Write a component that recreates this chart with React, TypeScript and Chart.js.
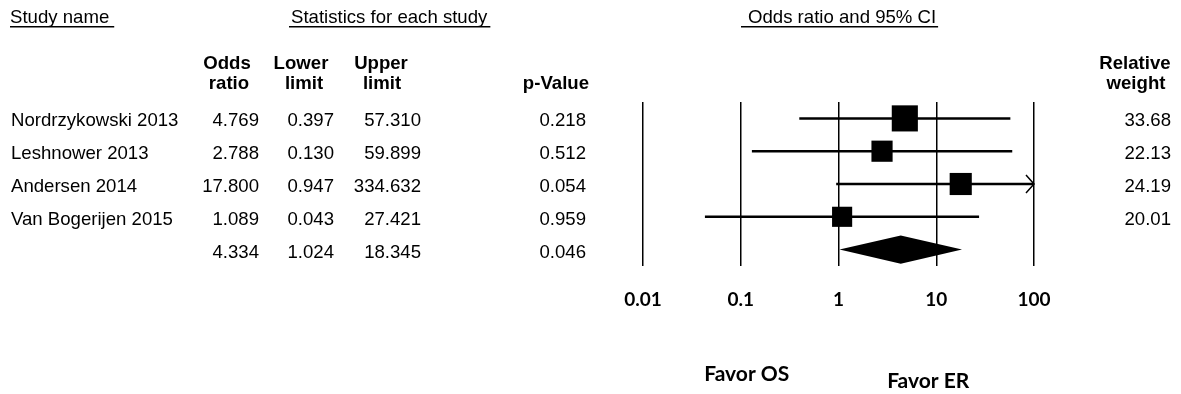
import { useEffect, useRef } from "react";
import { Chart, registerables } from "chart.js";

Chart.register(...registerables);

// ---------- data ----------
const studyNames = ["Nordrzykowski 2013", "Leshnower 2013", "Andersen 2014", "Van Bogerijen 2015"];
const oddsRatios = [4.769, 2.788, 17.8, 1.089];
const lowerLimits = [0.397, 0.13, 0.947, 0.043];
const upperLimits = [57.31, 59.899, 334.632, 27.421];
const pValues = [0.218, 0.512, 0.054, 0.959];
const relativeWeights = [33.68, 22.13, 24.19, 20.01];
const summaryOR = 4.334;
const summaryLower = 1.024;
const summaryUpper = 18.345;
const summaryP = 0.046;
const xTickValues = [0.01, 0.1, 1, 10, 100];
const xTickLabels = ["0.01", "0.1", "1", "10", "100"];
const favorLabels = ["Favor OS", "Favor ER"];

const W = 1181;
const H = 394;
const SANS = "'Liberation Sans', Arial, sans-serif";
const CAL = "Lato, 'Open Sans', sans-serif";
const FS = 18.6;

const summaryRow = studyNames.length;

const forestPlugin = {
  id: "forestExtras",
  afterDraw(chart: any) {
    const ctx: CanvasRenderingContext2D = chart.ctx;
    const xs = chart.scales.x;
    const ys = chart.scales.y;
    ctx.save();
    ctx.fillStyle = "#000";
    ctx.strokeStyle = "#000";

    // summary diamond
    const yc = ys.getPixelForValue(summaryRow);
    const hh = Math.abs(ys.getPixelForValue(summaryRow + 0.43) - yc);
    const xl = xs.getPixelForValue(summaryLower);
    const xm = xs.getPixelForValue(summaryOR);
    const xr = xs.getPixelForValue(summaryUpper);
    ctx.beginPath();
    ctx.moveTo(xl, yc);
    ctx.lineTo(xm, yc - hh);
    ctx.lineTo(xr, yc);
    ctx.lineTo(xm, yc + hh);
    ctx.closePath();
    ctx.fill();

    // arrows for limits beyond the axis
    const xmax = xs.max;
    upperLimits.forEach((u, i) => {
      if (u > xmax) {
        const tip = xs.getPixelForValue(xmax);
        const y = ys.getPixelForValue(i);
        ctx.beginPath();
        ctx.lineWidth = 1.5;
        ctx.moveTo(tip - 8, y - 9);
        ctx.lineTo(tip, y);
        ctx.lineTo(tip - 8, y + 9);
        ctx.stroke();
      }
    });

    // headers
    const underlineText = (t: string, x: number, y: number, padL: number, padR: number) => {
      ctx.textAlign = "left";
      ctx.fillText(t, x, y);
      const w = ctx.measureText(t).width;
      ctx.fillRect(x - padL, y + 3, w + padL + padR, 1.5);
    };
    ctx.textBaseline = "alphabetic";
    ctx.font = `${FS}px ${SANS}`;
    underlineText("Study name", 10, 23, 0, 5);
    underlineText("Statistics for each study", 291, 23, 2, 3);
    underlineText("Odds ratio and 95% CI", 748, 23, 7, 2);

    ctx.font = `bold ${FS}px ${SANS}`;
    const h1 = 69;
    const h2 = 89;
    ctx.textAlign = "center";
    ctx.fillText("Odds", 227, h1);
    ctx.fillText("ratio", 229, h2);
    ctx.fillText("Lower", 301, h1);
    ctx.fillText("limit", 304, h2);
    ctx.fillText("Upper", 381, h1);
    ctx.fillText("limit", 382, h2);
    ctx.textAlign = "right";
    ctx.fillText("p-Value", 589, h2);
    ctx.textAlign = "center";
    ctx.fillText("Relative", 1135, h1);
    ctx.fillText("weight", 1136, h2);

    // table rows
    ctx.font = `${FS}px ${SANS}`;
    const rowText = (i: number, name: string, or: number, lo: number, up: number, p: number, wgt: number | null) => {
      const y = ys.getPixelForValue(i) + 8;
      ctx.textAlign = "left";
      ctx.fillText(name, 11, y);
      ctx.textAlign = "right";
      ctx.fillText(or.toFixed(3), 259, y);
      ctx.fillText(lo.toFixed(3), 334, y);
      ctx.fillText(up.toFixed(3), 421, y);
      ctx.fillText(p.toFixed(3), 586, y);
      if (wgt !== null) ctx.fillText(wgt.toFixed(2), 1171, y);
    };
    studyNames.forEach((n, i) =>
      rowText(i, n, oddsRatios[i], lowerLimits[i], upperLimits[i], pValues[i], relativeWeights[i])
    );
    rowText(summaryRow, "", summaryOR, summaryLower, summaryUpper, summaryP, null);

    // favor labels
    ctx.font = `bold 21px ${CAL}`;
    ctx.textAlign = "center";
    ctx.fillText(favorLabels[0], xs.getPixelForValue(0.1) + 6, 381);
    ctx.fillText(favorLabels[1], xs.getPixelForValue(10) - 8, 388);

    ctx.restore();
  },
};

export default function App() {
  const ref = useRef<HTMLCanvasElement | null>(null);
  useEffect(() => {
    if (!ref.current) return;
    const ciSets = studyNames.map((n, i) => ({
      type: "line" as const,
      label: n,
      data: [
        { x: lowerLimits[i], y: i },
        { x: upperLimits[i], y: i },
      ],
      borderColor: "#000",
      borderWidth: 2.5,
      pointRadius: 0,
      showLine: true,
      order: 2,
    }));
    const squares = {
      type: "scatter" as const,
      label: "Odds ratio",
      data: oddsRatios.map((v, i) => ({ x: v, y: i })),
      pointStyle: "rect",
      pointRadius: relativeWeights.map((w) => (4.5 * Math.sqrt(w)) / Math.SQRT2),
      backgroundColor: "#000",
      borderColor: "#000",
      borderWidth: 0,
      order: 1,
      clip: false,
    };
    const chart = new Chart(ref.current, {
      type: "scatter",
      data: { datasets: [...ciSets, squares] as any },
      options: {
        responsive: false,
        animation: false,
        events: [],
        layout: { padding: { left: 643, right: W - 1034, top: 102, bottom: 0 } },
        plugins: { legend: { display: false }, tooltip: { enabled: false }, title: { display: false } },
        scales: {
          x: {
            type: "logarithmic",
            min: xTickValues[0],
            max: xTickValues[xTickValues.length - 1],
            position: "bottom",
            afterBuildTicks: (s: any) => {
              s.ticks = xTickValues.map((v) => ({ value: v }));
            },
            afterFit: (s: any) => {
              s.height = H - 266;
            },
            ticks: {
              autoSkip: false,
              maxRotation: 0,
              padding: 22,
              color: "#000",
              font: { family: CAL, size: 19, weight: "bold" },
              callback: (v: any) => {
                const idx = xTickValues.findIndex((t) => Math.abs(t - Number(v)) < 1e-9);
                return idx >= 0 ? xTickLabels[idx] : "";
              },
            },
            grid: { color: "#000", lineWidth: 1.5, drawTicks: false },
            border: { display: false },
          },
          y: {
            type: "linear",
            min: -0.5,
            max: summaryRow + 0.5,
            reverse: true,
            display: false,
          },
        },
      },
      plugins: [forestPlugin],
    });
    return () => chart.destroy();
  }, []);
  return (
    <div style={{ position: "absolute", left: 0, top: 0, width: W, height: H, background: "#fff" }}>
      <canvas ref={ref} width={W} height={H} style={{ display: "block" }} />
    </div>
  );
}
